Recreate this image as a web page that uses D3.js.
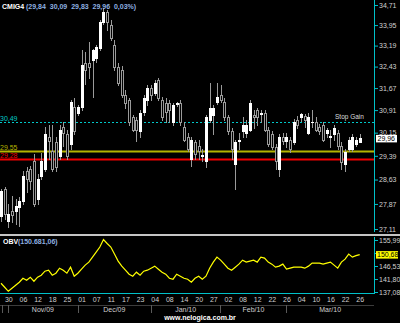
<!DOCTYPE html>
<html>
<head>
<meta charset="utf-8">
<script src="https://cdn.jsdelivr.net/npm/d3@7"></script>
<style>
body { margin: 0; background: #000; }
svg { display: block; font-family: "Liberation Sans", Arial, sans-serif; }
text { white-space: pre; }
</style>
</head>
<body>
<svg id="chart" width="400" height="323"></svg>
<script>
// trading days, CMIG4 daily candles
const dates = [
  '2009-10-28','2009-10-29','2009-10-30',
  '2009-11-03','2009-11-04','2009-11-05','2009-11-06','2009-11-09','2009-11-10','2009-11-11','2009-11-12','2009-11-13',
  '2009-11-16','2009-11-17','2009-11-18','2009-11-19','2009-11-23','2009-11-24','2009-11-25','2009-11-26','2009-11-27','2009-11-30',
  '2009-12-01','2009-12-02','2009-12-03','2009-12-04','2009-12-07','2009-12-08','2009-12-09','2009-12-10','2009-12-11',
  '2009-12-14','2009-12-15','2009-12-16','2009-12-17','2009-12-18','2009-12-21','2009-12-22','2009-12-23','2009-12-28','2009-12-29','2009-12-30',
  '2010-01-04','2010-01-05','2010-01-06','2010-01-07','2010-01-08','2010-01-11','2010-01-12','2010-01-13','2010-01-14','2010-01-15',
  '2010-01-18','2010-01-19','2010-01-20','2010-01-21','2010-01-22','2010-01-26','2010-01-27','2010-01-28','2010-01-29',
  '2010-02-01','2010-02-02','2010-02-03','2010-02-04','2010-02-05','2010-02-08','2010-02-09','2010-02-10','2010-02-11','2010-02-12',
  '2010-02-17','2010-02-18','2010-02-19','2010-02-22','2010-02-23','2010-02-24','2010-02-25','2010-02-26',
  '2010-03-01','2010-03-02','2010-03-03','2010-03-04','2010-03-05','2010-03-08','2010-03-09','2010-03-10','2010-03-11','2010-03-12',
  '2010-03-15','2010-03-16','2010-03-17','2010-03-18','2010-03-19','2010-03-22','2010-03-23','2010-03-24','2010-03-25','2010-03-26'
];

const open = [
  27.50, 28.33, 27.35, 27.65, 27.65, 27.77, 27.95, 28.90, 28.96, 29.22,
  28.02, 28.74, 28.96, 30.02, 29.54, 29.83, 29.38, 30.35, 30.09, 29.76,
  31.02, 30.82, 31.02, 32.56, 32.56, 32.67, 32.74, 33.10, 34.06, 34.44,
  33.95, 33.22, 32.42, 32.31, 31.44, 31.27, 30.69, 30.59, 30.19, 30.86,
  31.27, 31.68, 31.51, 31.96, 31.27, 31.16, 31.16, 30.52, 31.13, 31.16,
  30.35, 30.02, 29.28, 29.83, 29.70, 29.38, 29.22, 30.59, 30.76, 31.20,
  31.44, 31.20, 30.66, 30.19, 29.12, 29.89, 30.19, 30.15, 30.25, 30.76,
  30.92, 30.79, 30.82, 30.25, 30.09, 29.67, 28.96, 30.02, 29.86, 29.92,
  29.83, 30.59, 30.66, 30.72, 30.15, 30.49, 30.52, 30.35, 30.42, 30.15,
  30.02, 30.09, 30.15, 29.70, 29.12, 29.60, 29.60, 29.76, 29.84
];
const high = [
  28.33, 28.39, 27.86, 28.11, 28.02, 28.08, 28.90, 29.02, 29.05, 29.44,
  28.80, 29.47, 30.35, 30.42, 30.42, 29.99, 30.42, 30.49, 30.25, 31.27,
  31.34, 31.09, 33.03, 32.96, 33.33, 33.07, 33.22, 34.14, 34.60, 34.52,
  34.14, 33.40, 32.56, 32.45, 31.61, 31.34, 30.76, 30.69, 30.92, 31.44,
  31.79, 31.79, 31.96, 32.03, 31.37, 31.34, 31.27, 31.16, 31.20, 31.27,
  30.52, 30.15, 29.99, 29.92, 29.92, 29.60, 30.76, 31.86, 31.09, 31.86,
  31.79, 31.34, 30.76, 30.32, 29.92, 30.15, 30.69, 30.59, 31.27, 30.92,
  30.99, 30.92, 30.92, 30.35, 30.19, 29.76, 30.09, 30.15, 30.15, 30.02,
  30.62, 30.72, 30.82, 30.79, 30.82, 30.92, 30.66, 30.45, 30.52, 30.32,
  30.25, 30.42, 30.25, 29.83, 29.60, 29.99, 30.09, 30.02, 30.09
];
const low = [
  27.35, 27.41, 27.17, 27.32, 27.26, 27.20, 27.86, 28.24, 28.33, 27.80,
  27.86, 28.64, 28.90, 29.28, 28.90, 28.90, 29.28, 29.70, 29.28, 29.60,
  30.09, 30.76, 30.92, 31.82, 32.03, 31.37, 32.60, 33.03, 33.99, 33.77,
  33.40, 32.31, 31.79, 31.37, 30.99, 30.42, 30.19, 29.86, 29.99, 30.76,
  31.09, 31.27, 31.44, 31.27, 30.59, 30.52, 30.49, 30.42, 31.06, 30.42,
  29.86, 29.54, 29.06, 29.28, 29.28, 29.22, 29.02, 30.52, 30.09, 31.13,
  31.20, 30.59, 30.12, 29.28, 28.33, 29.60, 30.02, 30.02, 30.19, 30.29,
  30.42, 30.49, 30.19, 29.70, 29.60, 28.96, 28.74, 29.76, 29.67, 29.51,
  29.76, 30.32, 30.55, 30.35, 30.09, 30.35, 30.19, 30.09, 29.86, 29.99,
  29.67, 29.92, 29.60, 28.96, 28.90, 29.54, 29.54, 29.70, 29.83
];
const close = [
  28.27, 27.56, 27.56, 27.53, 27.80, 27.95, 28.74, 28.64, 28.58, 27.86,
  28.64, 29.22, 30.09, 29.89, 28.96, 29.02, 30.25, 30.15, 29.38, 31.20,
  30.19, 31.02, 32.49, 32.31, 32.42, 33.03, 33.14, 34.06, 34.44, 34.06,
  33.47, 32.42, 31.86, 31.44, 31.16, 30.52, 30.25, 30.25, 30.82, 31.34,
  31.68, 31.44, 31.86, 31.34, 30.69, 30.86, 30.92, 31.09, 31.16, 30.49,
  29.92, 29.60, 29.92, 29.44, 29.54, 29.41, 30.69, 30.99, 30.99, 31.37,
  31.27, 30.66, 30.19, 29.60, 29.83, 29.92, 30.42, 30.42, 31.16, 30.66,
  30.69, 30.82, 30.25, 29.76, 29.67, 29.22, 30.02, 29.86, 30.02, 29.60,
  30.52, 30.42, 30.79, 30.59, 30.66, 30.52, 30.25, 30.19, 29.92, 30.25,
  30.05, 30.32, 29.70, 29.18, 29.51, 29.92, 30.02, 29.92, 29.96
];
// on balance volume, thousands
const obv = [
  140.26, 138.80, 137.34, 138.43, 139.53, 140.63, 142.09, 141.36, 142.46, 140.99,
  142.46, 143.19, 144.65, 145.02, 143.19, 143.92, 145.75, 145.02, 143.92, 146.11,
  142.82, 143.92, 145.38, 146.85, 147.94, 149.77, 151.60, 153.43, 156.17, 154.71,
  153.43, 150.87, 148.31, 146.48, 145.02, 143.55, 142.82, 144.29, 143.19, 144.65,
  145.02, 145.75, 146.48, 145.38, 144.29, 143.55, 142.09, 141.73, 143.55, 142.82,
  142.09, 141.73, 140.63, 142.09, 142.82, 141.73, 142.82, 145.75, 147.94, 149.77,
  148.67, 147.21, 145.75, 145.02, 146.11, 147.21, 148.67, 147.94, 148.31, 148.67,
  147.94, 149.77, 149.41, 147.94, 147.21, 146.11, 146.48, 147.21, 145.38, 145.75,
  146.11, 146.11, 146.11, 145.75, 146.48, 147.58, 147.58, 147.58, 147.21, 147.58,
  147.94, 146.85, 145.75, 147.94, 149.04, 150.87, 149.77, 150.32, 150.68
];

const priceTicks = [34.71, 33.95, 33.19, 32.43, 31.67, 30.91, 30.15, 29.39, 28.63, 27.87, 27.11];
// 151,26 sits under the last-value box, so only its tick mark shows
const obvTicks = [155.99, 151.26, 146.53, 141.80, 137.08];
const obvHidden = [151.26];
const dayTicks = [
  '2009-10-30','2009-11-06','2009-11-12','2009-11-18','2009-11-25','2009-12-01','2009-12-07','2009-12-11',
  '2009-12-17','2009-12-23','2010-01-04','2010-01-08','2010-01-14','2010-01-20','2010-01-27','2010-02-02',
  '2010-02-08','2010-02-12','2010-02-22','2010-02-26','2010-03-04','2010-03-10','2010-03-16','2010-03-22','2010-03-26'
];
const months = ['2009-11','2009-12','2010-01','2010-02','2010-03'];
const monthLabels = ['Nov/09','Dec/09','Jan/10','Feb/10','Mar/10'];
const levelValues = [30.49, 29.55, 29.28];
const levelColors = ['#00c8c8', '#b4b400', '#f00000'];

const ticker = 'CMIG4';
const lastQuote = '(29,84  30,09  29,83  29,96  0,03%)';
const obvQuote = '(150.681,06)';

const fmt = d => d.toFixed(2).replace('.', ',');

const svg = d3.select('#chart');
const axisX = 374;
const cyan = '#00c0c8';
const labelColor = '#d0d0d0';
const blueText = '#8fb0e0';

svg.append('rect').attr('width', 400).attr('height', 323).attr('fill', '#000');

const x = d3.scalePoint().domain(dates).range([1, 359.7]);
const step = x.step();
const y = d3.scaleLog().domain([27.11, 34.71]).range([229, 5]);
const yObv = d3.scaleLinear().domain([137.08, 155.99]).range([292, 240]);

// level lines
const levels = svg.append('g');
levelValues.forEach(function (v, i) {
    const yy = Math.round(y(v));
    const line = levels.append('line')
        .attr('x1', 0).attr('x2', axisX)
        .attr('y1', yy + 0.5).attr('y2', yy + 0.5)
        .attr('stroke', levelColors[i]);
    if (i == 0) {
        line.attr('stroke-width', 1).attr('stroke-dasharray', '2,2');
    } else {
        line.attr('stroke-width', 2);
    }
    levels.append('text')
        .attr('x', 0).attr('y', yy - 1.5)
        .attr('font-size', 7)
        .attr('fill', levelColors[i])
        .text(fmt(v));
});
levels.append('text')
    .attr('x', 335).attr('y', Math.round(y(levelValues[0])) - 3)
    .attr('font-size', 6.5)
    .attr('fill', '#dddddd')
    .text('Stop Gain');

// candles
const candles = svg.append('g');
dates.forEach(function (d, i) {
    const xc = Math.round(x(d));
    const up = close[i] >= open[i];
    candles.append('line')
        .attr('x1', xc + 0.5).attr('x2', xc + 0.5)
        .attr('y1', Math.round(y(high[i]))).attr('y2', Math.round(y(low[i])) + 1)
        .attr('stroke', '#9a9a9a');
    const top = Math.round(y(Math.max(open[i], close[i])));
    const bot = Math.round(y(Math.min(open[i], close[i])));
    if (up) {
        candles.append('rect')
            .attr('x', xc - 1).attr('y', top)
            .attr('width', 3).attr('height', Math.max(1, bot - top + 1))
            .attr('fill', '#ffffff');
    } else {
        candles.append('rect')
            .attr('x', xc - 0.5).attr('y', top + 0.5)
            .attr('width', 2).attr('height', Math.max(0.5, bot - top))
            .attr('fill', '#000').attr('stroke', '#9a9a9a');
    }
});

// price axis
svg.append('line').attr('x1', axisX + 0.5).attr('x2', axisX + 0.5)
    .attr('y1', 0).attr('y2', 232).attr('stroke', cyan);
const yAxis = svg.append('g')
    .attr('transform', 'translate(' + (axisX + 1) + ',0)')
    .call(d3.axisRight(y).tickValues(priceTicks).tickFormat(fmt).tickSize(3).tickSizeOuter(0).tickPadding(1));
yAxis.select('.domain').remove();
yAxis.selectAll('line').attr('stroke', cyan);
yAxis.selectAll('text').attr('fill', labelColor).attr('font-size', 7).attr('font-family', null);

const last = close[close.length - 1];
const ly = y(last);
svg.append('rect').attr('x', 376).attr('y', ly - 3.5).attr('width', 21).attr('height', 7.5).attr('fill', '#ffffff');
svg.append('text').attr('x', 377.5).attr('y', ly + 2.5).attr('font-size', 7).attr('fill', '#000').text(fmt(last));

// header
svg.append('text').attr('x', 2).attr('y', 8.5).attr('font-size', 7).attr('font-weight', 'bold')
    .attr('fill', '#ffffff').text(ticker);
svg.append('text').attr('x', 26).attr('y', 8.5).attr('font-size', 7).attr('font-weight', 'bold')
    .attr('fill', blueText).text(lastQuote);

// panel separator
svg.append('rect').attr('x', 0).attr('y', 234).attr('width', 400).attr('height', 2).attr('fill', '#c4c4c4');

// OBV panel
svg.append('path')
    .datum(obv)
    .attr('fill', 'none')
    .attr('stroke', '#ffff00')
    .attr('stroke-width', 1.2)
    .attr('d', d3.line().x((v, i) => x(dates[i])).y(v => yObv(v)));

svg.append('line').attr('x1', axisX + 0.5).attr('x2', axisX + 0.5)
    .attr('y1', 237).attr('y2', 293.5).attr('stroke', cyan);
svg.append('line').attr('x1', 0).attr('x2', axisX + 1)
    .attr('y1', 293.5).attr('y2', 293.5).attr('stroke', cyan);
const obvAxis = svg.append('g')
    .attr('transform', 'translate(' + (axisX + 1) + ',0)')
    .call(d3.axisRight(yObv).tickValues(obvTicks)
        .tickFormat(d => obvHidden.includes(d) ? '' : fmt(d))
        .tickSize(3).tickSizeOuter(0).tickPadding(1));
obvAxis.select('.domain').remove();
obvAxis.selectAll('line').attr('stroke', cyan);
obvAxis.selectAll('text').attr('fill', labelColor).attr('font-size', 7).attr('font-family', null);

const lastObv = obv[obv.length - 1];
const oy = yObv(lastObv);
svg.append('rect').attr('x', 376).attr('y', oy - 3.5).attr('width', 22).attr('height', 7.5).attr('fill', '#ffff00');
svg.append('text').attr('x', 377).attr('y', oy + 2.5).attr('font-size', 7).attr('fill', '#000').text(fmt(lastObv));

svg.append('text').attr('x', 3).attr('y', 243.5).attr('font-size', 7).attr('font-weight', 'bold')
    .attr('fill', '#ffffff').text('OBV');
svg.append('text').attr('x', 18).attr('y', 243.5).attr('font-size', 7).attr('font-weight', 'bold')
    .attr('fill', blueText).text(obvQuote);

// date axis
const xAxis = svg.append('g')
    .attr('transform', 'translate(0,294)')
    .call(d3.axisBottom(x).tickValues(dayTicks).tickFormat(d => d.slice(8)).tickSize(0).tickPadding(3));
xAxis.select('.domain').remove();
xAxis.selectAll('text').attr('fill', labelColor).attr('font-size', 7).attr('font-family', null);

// month row
svg.append('line').attr('x1', 0).attr('x2', axisX).attr('y1', 305.5).attr('y2', 305.5).attr('stroke', '#3c3c3c');
const bounds = months.map(function (m) {
    const first = dates.find(d => d.slice(0, 7) == m);
    return x(first) - step / 2 - 2;
});
const edges = [1.5].concat(bounds, [axisX]);
edges.slice(0, -1).forEach(function (bx) {
    svg.append('line').attr('x1', Math.round(bx) + 0.5).attr('x2', Math.round(bx) + 0.5)
        .attr('y1', 305).attr('y2', 313).attr('stroke', '#5a5a5a');
});
monthLabels.forEach(function (lab, i) {
    svg.append('text')
        .attr('x', (bounds[i] + edges[i + 2]) / 2)
        .attr('y', 312)
        .attr('text-anchor', 'middle')
        .attr('font-size', 7)
        .attr('fill', labelColor)
        .text(lab);
});

svg.append('text').attr('x', 200).attr('y', 320).attr('text-anchor', 'middle')
    .attr('font-size', 7).attr('font-weight', 'bold').attr('fill', '#ffffff')
    .text('www.nelogica.com.br');
</script>
</body>
</html>
